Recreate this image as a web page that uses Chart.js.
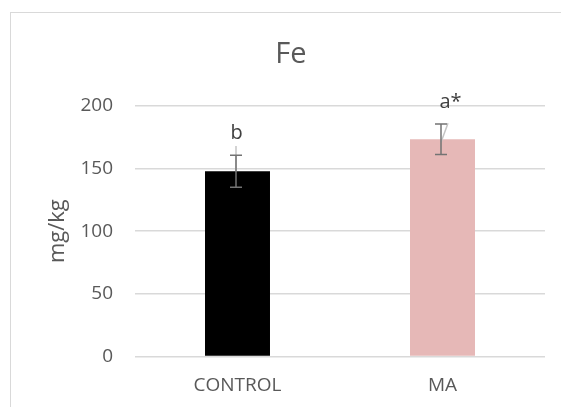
<!DOCTYPE html>
<html>
<head>
<meta charset="utf-8">
<script src="https://cdn.jsdelivr.net/npm/chart.js@4"></script>
<style>
  body { margin: 0; background: #fff; }
  #wrap { width: 561px; height: 407px; }
</style>
</head>
<body>
<div id="wrap"><canvas id="feChart" width="561" height="407"></canvas></div>
<script>
const categories = ['CONTROL', 'MA'];
const feMeans = [147.8, 173.3];
const feErrors = [12.8, 12.1];
const sigLabels = ['b', 'a*'];
// stray light error lines in the source picture (from value -> to value)
const ghostFrom = [147.8, 171];
const ghostTo = [168, 186];
const yTicks = [0, 50, 100, 150, 200];

const barColors = ['#000000', '#e6b8b7'];
const textColor = '#595959';

const frame = {
  id: 'frame',
  beforeDraw(chart) {
    const ctx = chart.ctx;
    ctx.save();
    ctx.fillStyle = '#fff';
    ctx.fillRect(0, 0, chart.width, chart.height);
    ctx.strokeStyle = '#d9d9d9';
    ctx.lineWidth = 1;
    ctx.strokeRect(10.5, 12.5, chart.width + 20, chart.height + 20);
    ctx.restore();
  }
};

const errorBars = {
  id: 'errorBars',
  afterDatasetsDraw(chart) {
    const ctx = chart.ctx;
    const y = chart.scales.y;
    const bars = chart.getDatasetMeta(0).data;
    const ghostShift = [0, 7];
    const labelShift = [-1, 8];
    ctx.save();
    bars.forEach((bar, i) => {
      const x = bar.x - 1.5;
      // light stray line
      ctx.strokeStyle = '#c4c4c4';
      ctx.lineWidth = 1.5;
      ctx.beginPath();
      ctx.moveTo(x, y.getPixelForValue(ghostFrom[i]));
      ctx.lineTo(x + ghostShift[i], y.getPixelForValue(ghostTo[i]));
      ctx.stroke();

      const top = y.getPixelForValue(feMeans[i] + feErrors[i]);
      const bot = y.getPixelForValue(feMeans[i] - feErrors[i]);
      ctx.strokeStyle = '#737373';
      ctx.lineWidth = 1.5;
      ctx.beginPath();
      ctx.moveTo(x, top); ctx.lineTo(x, bot);
      ctx.moveTo(x - 6, top); ctx.lineTo(x + 6, top);
      ctx.moveTo(x - 6, bot); ctx.lineTo(x + 6, bot);
      ctx.stroke();

      ctx.fillStyle = '#404040';
      ctx.font = '20px "Open Sans"';
      ctx.textAlign = 'center';
      ctx.textBaseline = 'middle';
      ctx.fillText(sigLabels[i], bar.x + labelShift[i], top - 22);
    });
    ctx.restore();
  }
};

new Chart(document.getElementById('feChart'), {
  type: 'bar',
  data: {
    labels: categories,
    datasets: [{
      data: feMeans,
      backgroundColor: barColors,
      borderWidth: 0,
      barPercentage: 0.317,
      categoryPercentage: 1
    }]
  },
  options: {
    responsive: false,
    animation: false,
    devicePixelRatio: 1,
    layout: { padding: { left: 37, right: 16, top: 0, bottom: 0 } },
    plugins: {
      legend: { display: false },
      tooltip: { enabled: false },
      title: {
        display: true,
        text: 'Fe',
        color: textColor,
        font: { family: 'Open Sans', size: 29, weight: 'normal' },
        padding: { top: 37, bottom: 34 }
      }
    },
    scales: {
      x: {
        grid: { display: false, drawTicks: false },
        border: { display: false },
        ticks: { color: textColor, font: { family: 'Open Sans', size: 19 }, padding: 18 },
        afterFit(scale) { scale.height = 50.5; }
      },
      y: {
        min: 0,
        max: 200,
        afterBuildTicks(scale) { scale.ticks = yTicks.map(v => ({ value: v })); },
        grid: { color: '#d9d9d9', lineWidth: 1.5, drawTicks: false },
        border: { display: false },
        ticks: { color: textColor, font: { family: 'Open Sans', size: 19 }, padding: 22 },
        title: {
          display: true,
          text: 'mg/kg',
          color: textColor,
          font: { family: 'Open Sans', size: 22 },
          padding: { top: 8, bottom: 0 }
        },
        afterFit(scale) { scale.width = 98; }
      }
    }
  },
  plugins: [frame, errorBars]
});
</script>
</body>
</html>
